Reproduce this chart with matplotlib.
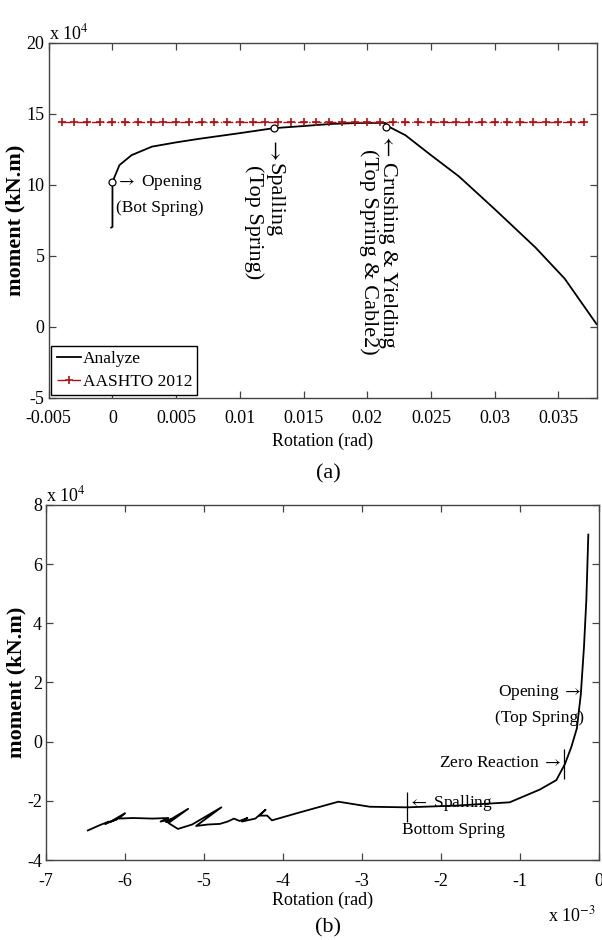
import numpy as np
import matplotlib
matplotlib.use("Agg")
import matplotlib.pyplot as plt

plt.rcParams.update({"font.family": ["Liberation Serif", "DejaVu Serif"],
                     "mathtext.fontset": "stix", "axes.unicode_minus": False,
                     "font.size": 13})
SPINE = "#444444"
RED = "#b01010"
RA, LA = r"$\rightarrow$", r"$\leftarrow$"

# (a) moment (x 1e4 kN.m) vs rotation (rad)
rot_a = [-0.0001, 0.0, 0.0, 0.00016, 0.00055, 0.0015, 0.0031, 0.0050, 0.0068,
         0.0100, 0.01266, 0.0150, 0.0172, 0.0195, 0.0214, 0.0217, 0.0230,
         0.0250, 0.0272, 0.0300, 0.0332, 0.0355, 0.0380]
mom_a = [7.0, 7.05, 10.2, 10.56, 11.4, 12.1, 12.7, 13.0, 13.25,
         13.65, 14.0, 14.15, 14.3, 14.37, 14.37, 14.1, 13.5,
         12.1, 10.6, 8.3, 5.6, 3.4, 0.2]
aashto_x = [v / 1000 for v in range(-4, 38)]
aashto_m = 14.4
events_a_x = [0.0, 0.01266, 0.0215]
events_a_m = [10.2, 14.0, 14.1]

# (b) moment (x 1e4 kN.m) vs rotation (x 1e-3 rad)
rot_b = [-6.47, -6.30, -6.20, -6.25, -6.10, -6.18, -6.00, -6.08, -5.90, -5.65,
         -5.45, -5.55, -5.40, -5.48, -5.20, -5.45, -5.33, -5.15, -4.78, -5.10,
         -4.95, -4.80, -4.70, -4.62, -4.55, -4.45, -4.52, -4.35, -4.22, -4.30,
         -4.20, -4.14, -3.80, -3.30, -3.25, -2.90, -2.43, -1.80, -1.13, -0.75,
         -0.54, -0.43, -0.35, -0.28, -0.23, -0.19, -0.16, -0.135]
mom_b = [-3.00, -2.80, -2.70, -2.78, -2.62, -2.70, -2.42, -2.60, -2.58, -2.60,
         -2.58, -2.70, -2.62, -2.72, -2.27, -2.75, -2.95, -2.80, -2.22, -2.85,
         -2.80, -2.78, -2.70, -2.60, -2.68, -2.58, -2.70, -2.60, -2.30, -2.50,
         -2.50, -2.66, -2.40, -2.03, -2.05, -2.20, -2.22, -2.16, -2.05, -1.62,
         -1.30, -0.75, -0.18, 0.45, 1.6, 3.2, 4.8, 7.0]
events_b_x = [-2.43, -0.44]
events_b_m = [-2.20, -0.74]

xticks_a = [-0.005, 0, 0.005, 0.01, 0.015, 0.02, 0.025, 0.03, 0.035]
xtlab_a = ["-0.005", "0", "0.005", "0.01", "0.015", "0.02", "0.025", "0.03", "0.035"]
yticks_a = [-5, 0, 5, 10, 15, 20]
xticks_b = [-7, -6, -5, -4, -3, -2, -1, 0]
yticks_b = [-4, -2, 0, 2, 4, 6, 8]

fig = plt.figure(figsize=(6.02, 9.40), dpi=100)
ax1 = fig.add_axes([0.081, 0.5766, 0.910, 0.3777])
ax2 = fig.add_axes([0.0764, 0.0851, 0.9186, 0.3777])

for ax in (ax1, ax2):
    for s in ax.spines.values():
        s.set_color(SPINE)
        s.set_linewidth(1.0)
    ax.tick_params(direction="in", top=True, right=True, length=5, width=0.9,
                   color=SPINE, labelsize=13)
    ax.tick_params(axis="x", pad=9)
    ax.tick_params(axis="y", pad=3)

# panel (a)
ax1.plot(rot_a, mom_a, color="black", lw=1.3, label="Analyze")
ax1.plot(aashto_x, [aashto_m] * len(aashto_x), ls="-.", color=RED, lw=1.0,
         marker="+", ms=6, mew=1.2, label="AASHTO 2012")
ax1.plot(events_a_x, events_a_m, ls="none", marker="o", ms=5, mfc="white",
         mec="black", mew=0.9)
ax1.set_xlim(-0.005, 0.038)
ax1.set_ylim(-5, 20)
ax1.set_xticks(xticks_a, xtlab_a)
ax1.set_yticks(yticks_a, [str(v) for v in yticks_a])
ax1.text(0.0, 1.0, r"x 10$^{4}$", transform=ax1.transAxes, ha="left", va="bottom",
         fontsize=13)
ax1.set_xlabel("Rotation (rad)", fontsize=13)
ax1.xaxis.set_label_coords(0.5, -0.098)
ax1.set_ylabel("moment (kN.m)", fontsize=16, fontweight="bold")
ax1.yaxis.set_label_coords(-0.042, 0.5)

ax1.text(0.0003, 10.2, RA + " Opening", ha="left", va="center", fontsize=12.5)
ax1.text(0.0003, 8.4, "(Bot Spring)", ha="left", va="center", fontsize=12.5)
ax1.text(0.01266, 13.45, RA, rotation=-90, ha="center", va="top", fontsize=16)
ax1.text(0.01266, 11.55, "Spalling", rotation=-90, ha="center", va="top", fontsize=16)
ax1.text(0.0111, 11.4, "(Top Spring)", rotation=-90, ha="center", va="top", fontsize=16)
ax1.text(0.02156, 13.75, LA, rotation=-90, ha="center", va="top", fontsize=16)
ax1.text(0.02156, 11.6, "Crushing & Yielding", rotation=-90, ha="center", va="top",
         fontsize=16)
ax1.text(0.0201, 12.5, "(Top Spring & Cable2)", rotation=-90, ha="center", va="top",
         fontsize=16)

leg = ax1.legend(loc="lower left", fontsize=12.5, handlelength=1.4, handletextpad=0.1,
                 borderaxespad=0.15, borderpad=0.3, labelspacing=0.4, fancybox=False,
                 framealpha=1)
leg.get_frame().set_edgecolor("black")
leg.get_frame().set_linewidth(1.0)

# panel (b)
ax2.plot(rot_b, mom_b, color="black", lw=1.3)
ax2.plot(events_b_x, events_b_m, ls="none", marker="|", ms=22, mew=0.9, color="black")
ax2.set_xlim(-7, 0)
ax2.set_ylim(-4, 8)
ax2.set_xticks(xticks_b, [str(v) for v in xticks_b])
ax2.set_yticks(yticks_b, [str(v) for v in yticks_b])
ax2.text(0.0, 1.0, r"x 10$^{4}$", transform=ax2.transAxes, ha="left", va="bottom",
         fontsize=13)
ax2.text(0.995, -0.128, r"x 10$^{-3}$", transform=ax2.transAxes, ha="right", va="top",
         fontsize=13)
ax2.set_xlabel("Rotation (rad)", fontsize=13)
ax2.xaxis.set_label_coords(0.5, -0.09)
ax2.set_ylabel("moment (kN.m)", fontsize=16, fontweight="bold")
ax2.yaxis.set_label_coords(-0.036, 0.5)

ax2.text(-0.75, 1.66, "Opening " + RA, ha="center", va="center", fontsize=12.5)
ax2.text(-0.75, 0.80, "(Top Spring)", ha="center", va="center", fontsize=12.5)
ax2.text(-0.47, -0.71, "Zero Reaction " + RA, ha="right", va="center", fontsize=12.5)
ax2.text(-2.42, -2.06, LA + " Spalling", ha="left", va="center", fontsize=12.5)
ax2.text(-2.49, -2.97, "Bottom Spring", ha="left", va="center", fontsize=12.5)

fig.text(0.545, 1 - 474 / 940, "(a)", ha="center", va="center", fontsize=16)
fig.text(0.545, 1 - 928 / 940, "(b)", ha="center", va="center", fontsize=16)

fig.savefig("out.png", dpi=100)
